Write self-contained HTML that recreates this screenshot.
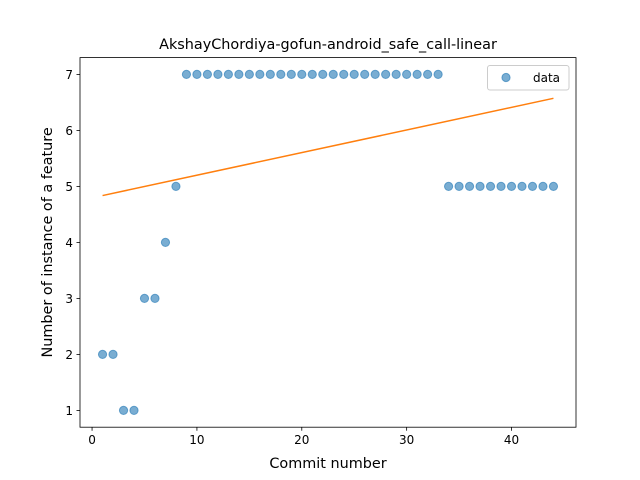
<!DOCTYPE html>
<html><head><meta charset="utf-8"><style>
body{margin:0;background:#fff;}
svg{display:block;font-family:"DejaVu Sans","Liberation Sans",sans-serif;}
</style></head><body>
<svg id="chart" width="640" height="480"></svg>
<script>
const commits = [];
for (let i = 1; i <= 44; i++) commits.push(i);
const values = [2,2,1,1,3,3,4,5,7,7,7,7,7,7,7,7,7,7,7,7,7,7,7,7,7,7,7,7,7,7,7,7,7,5,5,5,5,5,5,5,5,5,5,5];
const xTicks = [0,10,20,30,40];
const yTicks = [1,2,3,4,5,6,7];

const svg = document.getElementById('chart');
const NS = 'http://www.w3.org/2000/svg';
const L=80,R=576,T=57.6,B=427.2;
const xmin=-1.15,xmax=46.15,ymin=0.7,ymax=7.3;
const sx=v=>L+(v-xmin)/(xmax-xmin)*(R-L);
const sy=v=>B-(v-ymin)/(ymax-ymin)*(B-T);
function el(tag,attrs,parent){const e=document.createElementNS(NS,tag);for(const k in attrs)e.setAttribute(k,attrs[k]);(parent||svg).appendChild(e);return e;}

const title=el('text',{x:(L+R)/2,y:49,'text-anchor':'middle','font-size':14.4,fill:'#000'});
title.textContent='AkshayChordiya-gofun-android_safe_call-linear';



const xg=el('g',{});


xTicks.forEach(t=>{
  el('line',{x1:sx(t),x2:sx(t),y1:B,y2:B+3.5,stroke:'#000','stroke-width':0.8},xg);
  const tx=el('text',{x:sx(t),y:B+17,'text-anchor':'middle','font-size':12},xg);
  tx.textContent=t;
  
  
});
const yg=el('g',{});


yTicks.forEach(t=>{
  el('line',{x1:L-3.5,x2:L,y1:sy(t),y2:sy(t),stroke:'#000','stroke-width':0.8},yg);
  const tx=el('text',{x:L-7,y:sy(t)+4.5,'text-anchor':'end','font-size':12},yg);
  tx.textContent=t;
  
  
});
const xl=el('text',{x:(L+R)/2,y:468,'text-anchor':'middle','font-size':14.4});
xl.textContent='Commit number';


const yl=el('text',{x:0,y:0,'text-anchor':'middle','font-size':14.4,transform:`translate(52,${(T+B)/2}) rotate(-90)`});
yl.textContent='Number of instance of a feature';



commits.forEach((c,i)=>{
  const p=el('circle',{cx:sx(c),cy:sy(values[i]),r:4.1,fill:'#1f77b4','fill-opacity':0.6,stroke:'#1f77b4','stroke-opacity':0.6});
  
  
});

const n=commits.length;
const mx=commits.reduce((a,b)=>a+b,0)/n, my=values.reduce((a,b)=>a+b,0)/n;
let num=0,den=0;commits.forEach((c,i)=>{num+=(c-mx)*(values[i]-my);den+=(c-mx)*(c-mx);});
const slope=num/den, icpt=my-slope*mx;
const x0=commits[0],x1=commits[n-1];
const fl=el('line',{x1:sx(x0),y1:sy(icpt+slope*x0),x2:sx(x1),y2:sy(icpt+slope*x1),stroke:'#ff7f0e','stroke-width':1.5});



const frame=el('rect',{x:L,y:T,width:R-L,height:B-T,fill:'none',stroke:'#000','stroke-width':0.8});



const lg=el('g',{});


el('rect',{x:487.5,y:65.5,width:81.5,height:24.5,rx:2.5,fill:'#fff','fill-opacity':0.8,stroke:'#ccc','stroke-width':1},lg);
el('circle',{cx:506,cy:77.5,r:4.1,fill:'#1f77b4','fill-opacity':0.6,stroke:'#1f77b4','stroke-opacity':0.6},lg);
const lt=el('text',{x:533,y:82,'font-size':12},lg);
lt.textContent='data';


</script>
</body></html>
